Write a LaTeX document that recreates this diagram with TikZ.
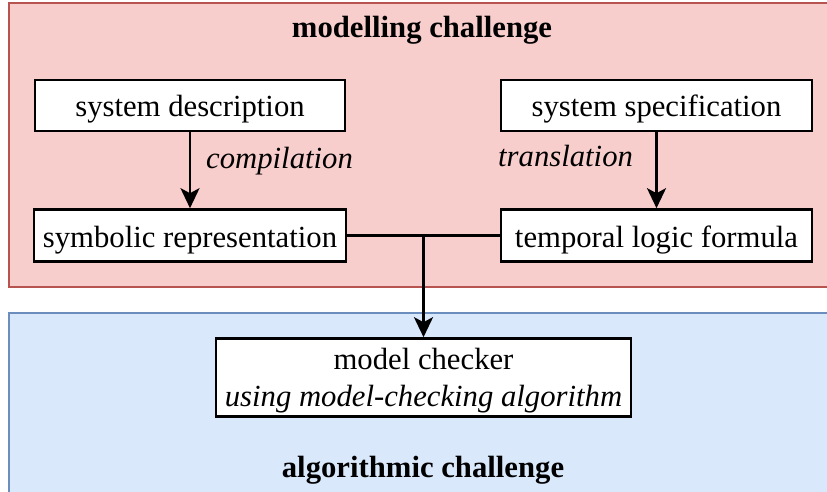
\documentclass[tikz,border=0pt]{standalone}
\usepackage{fontspec}
\setmainfont{Liberation Serif}
\usetikzlibrary{arrows.meta}
\definecolor{redfill}{HTML}{F8CECC}
\definecolor{redline}{HTML}{B85450}
\definecolor{bluefill}{HTML}{DAE8FC}
\definecolor{blueline}{HTML}{6C8EBF}
\tikzset{
  txt/.style={inner sep=0pt, font=\fontsize{30.7}{37}\selectfont},
  box/.style={txt, draw=black, fill=white, line width=2.6pt, text height=23pt, text depth=0pt},
  lbl/.style={txt, anchor=base, font=\fontsize{30.7}{37}\selectfont\itshape},
  ttl/.style={txt, anchor=base, font=\fontsize{30.7}{37}\selectfont\bfseries},
  conn/.style={line width=2.6pt, draw=black},
  arr/.style={conn, -{Stealth[length=20pt,width=19pt,inset=5pt]}},
  panel/.style={line width=2pt}
}
\begin{document}
\begin{tikzpicture}[x=1pt,y=-1pt]
\useasboundingbox (0,0) rectangle (827,492);
\fill[white] (0,0) rectangle (827,492);
% panels
\draw[panel, draw=redline, fill=redfill] (9,3) rectangle (840,287);
\draw[panel, draw=blueline, fill=bluefill] (9,313) rectangle (840,510);
% titles
\node[ttl] (t1) at (422,38) {modelling challenge};
\node[ttl] (t2) at (423,477) {algorithmic challenge};
% boxes
\node[box, minimum width=310pt, minimum height=51pt] (desc) at (190,105.5) {system description};
\node[box, minimum width=311pt, minimum height=51pt] (spec) at (656.5,105.5) {system specification};
\node[box, minimum width=312pt, minimum height=52pt] (sym) at (190,235.5) {symbolic representation};
\node[box, minimum width=311pt, minimum height=52pt] (tlf) at (656.5,235.5) {temporal logic formula};
\node[box, minimum width=415pt, minimum height=78pt] (mc) at (423.5,377.5) {};
\node[txt, anchor=base] (mc1) at (423.5,369) {model checker};
\node[lbl] (mc2) at (423.5,406) {using model-checking algorithm};
% labels
\node[lbl, anchor=base west] (l1) at (206,168) {compilation};
\node[lbl, anchor=base west] (l2) at (498,167) {translation};
% connectors
\draw[arr] (desc.south) -- (sym.north);
\draw[arr] (spec.south) -- (tlf.north);
\coordinate (j) at (mc.north |- sym.east);
\draw[conn] (sym.east) -- (tlf.west);
\draw[arr] (j) -- (mc.north);
\end{tikzpicture}
\end{document}
